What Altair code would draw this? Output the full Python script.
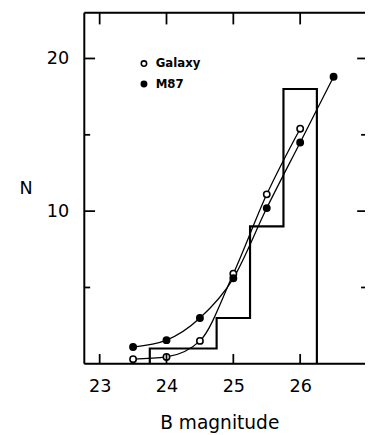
import altair as alt
import pandas as pd

# ---- data ----
galaxy_mag = [23.5, 24.0, 24.5, 25.0, 25.5, 26.0]
galaxy_n = [0.3, 0.45, 1.5, 5.9, 11.1, 15.4]
m87_mag = [23.5, 24.0, 24.5, 25.0, 25.5, 26.0, 26.5]
m87_n = [1.1, 1.55, 3.0, 5.6, 10.2, 14.5, 18.8]
hist_edges = [23.75, 24.75, 25.25, 25.75, 26.25]
hist_counts = [1, 3, 9, 18]
x_ticks = [23, 24, 25, 26]
y_major = [10, 20]
y_minor = [5, 15]

W, H = 287, 359
XDOM = [22.77, 26.97]
YDOM = [0, 23]
FONT = "DejaVu Sans"

pts = pd.DataFrame(
    [{"x": m, "y": n, "series": "Galaxy"} for m, n in zip(galaxy_mag, galaxy_n)]
    + [{"x": m, "y": n, "series": "M87"} for m, n in zip(m87_mag, m87_n)]
)

step_rows = [{"x": hist_edges[0], "y": 0}]
step_rows += [{"x": e, "y": c} for e, c in zip(hist_edges[:-1], hist_counts)]
step_rows += [{"x": hist_edges[-1], "y": 0}]
hist = pd.DataFrame(step_rows)
hist["i"] = range(len(hist))

xt = pd.DataFrame({"x": x_ticks})
ymaj = pd.DataFrame({"y": y_major})
ymin = pd.DataFrame({"y": y_minor})

xaxis = alt.Axis(
    values=x_ticks, grid=False, domain=False, ticks=False, tickSize=0,
    labelPadding=14, labelFontSize=18, labelFont=FONT, labelColor="black",
    title="B magnitude", titleFont=FONT, titleFontSize=19, titleFontWeight="normal",
    titleColor="black", titleX=138, titleY=66, titleBaseline="alphabetic",
    titleAlign="center",
)
yaxis = alt.Axis(
    values=y_major, grid=False, domain=False, ticks=False, tickSize=0,
    labelPadding=16, labelFontSize=18, labelFont=FONT, labelColor="black",
    title="N", titleAngle=0, titleFont=FONT, titleFontSize=18,
    titleFontWeight="normal", titleColor="black", titleX=-60, titleY=180,
    titleAlign="center", titleBaseline="middle",
)
xs = alt.Scale(domain=XDOM, nice=False, zero=False)
ys = alt.Scale(domain=YDOM, nice=False, zero=False)


def X(field="x"):
    return alt.X(f"{field}:Q", scale=xs, axis=xaxis)


def Y(field="y"):
    return alt.Y(f"{field}:Q", scale=ys, axis=yaxis)


histo = alt.Chart(hist).mark_line(
    interpolate="step-after", color="black", strokeWidth=2.2
).encode(x=X(), y=Y(), order="i:Q")

lines = alt.Chart(pts).mark_line(
    interpolate="monotone", color="black", strokeWidth=1.3
).encode(x=X(), y=Y(), detail="series:N")

points = alt.Chart(pts).mark_point(
    filled=True, stroke="black", strokeWidth=1.6, size=42, opacity=1
).encode(
    x=X(), y=Y(),
    fill=alt.Fill(
        "series:N",
        scale=alt.Scale(domain=["Galaxy", "M87"], range=["white", "black"]),
        legend=alt.Legend(
            title=None, orient="none", legendX=55, legendY=46,
            labelFont=FONT, labelFontSize=12, labelFontWeight="bold",
            labelColor="black", labelOffset=6, rowPadding=9,
            symbolSize=30, symbolStrokeColor="black", symbolStrokeWidth=1.6,
            symbolType="circle",
        ),
    ),
)

# frame (left, top, bottom) and inward ticks
frame_l = alt.Chart(xt.head(1)).mark_rule(color="black", strokeWidth=2).encode(
    x=alt.value(0), y=alt.value(0), y2=alt.value(H))
frame_t = alt.Chart(xt.head(1)).mark_rule(color="black", strokeWidth=2).encode(
    x=alt.value(0), x2=alt.value(W), y=alt.value(0))
frame_b = alt.Chart(xt.head(1)).mark_rule(color="black", strokeWidth=2).encode(
    x=alt.value(0), x2=alt.value(W), y=alt.value(H))

tick_b = alt.Chart(xt).mark_rule(color="black", strokeWidth=1.8).encode(
    x=X(), y=alt.value(H), y2=alt.value(H - 10))
tick_t = alt.Chart(xt).mark_rule(color="black", strokeWidth=1.8).encode(
    x=X(), y=alt.value(0), y2=alt.value(12))
tick_l = alt.Chart(ymaj).mark_rule(color="black", strokeWidth=1.8).encode(
    y=Y(), x=alt.value(0), x2=alt.value(11))
tick_lm = alt.Chart(ymin).mark_rule(color="black", strokeWidth=1.8).encode(
    y=Y(), x=alt.value(0), x2=alt.value(6))
tick_r = alt.Chart(ymaj).mark_rule(color="black", strokeWidth=1.8).encode(
    y=Y(), x=alt.value(W - 8), x2=alt.value(W))
tick_rm = alt.Chart(ymin).mark_rule(color="black", strokeWidth=1.8).encode(
    y=Y(), x=alt.value(W - 4), x2=alt.value(W))

chart = alt.layer(
    histo, lines, points, frame_l, frame_t, frame_b,
    tick_b, tick_t, tick_l, tick_lm, tick_r, tick_rm,
).properties(
    width=W, height=H,
    autosize=alt.AutoSizeParams(type="none"),
    padding={"left": 78, "top": 0, "right": 0, "bottom": 68},
).configure_view(stroke=None).configure(background="white")

chart.save("out.html", embed_options={"renderer": "svg", "actions": False})
